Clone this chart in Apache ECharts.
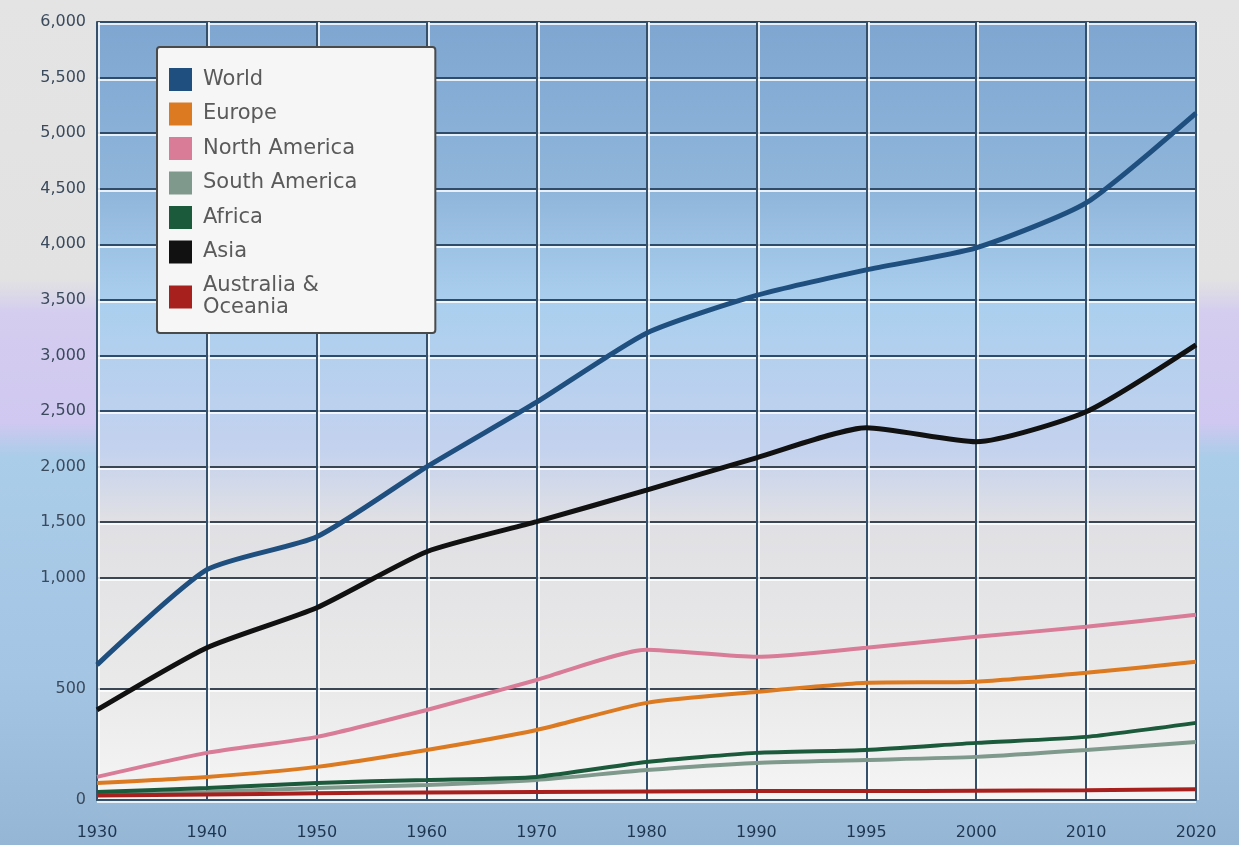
<!DOCTYPE html>
<html>
<head>
<meta charset="utf-8">
<script src="https://cdn.jsdelivr.net/npm/echarts@6/dist/echarts.min.js"></script>
<style>
html,body{margin:0;padding:0;}
body{width:1239px;height:845px;overflow:hidden;
background:linear-gradient(to bottom,#e4e4e4 0%,#e2e2e2 33%,#d4cdef 37%,#d0c8f0 50%,#aacde9 54%,#a4c5e4 80%,#96b6d6 100%);}
#chart{width:1239px;height:845px;}
</style>
</head>
<body>
<div id="chart"></div>
<script>
// ---- data (population, millions) ----
const years = ['1930','1940','1950','1960','1970','1980','1990','1995','2000','2010','2020'];
const world        = [608, 1072, 1369, 1998, 2580, 3200, 3540, 3770, 3968, 4372, 5180];
const europe       = [77, 104, 149, 225, 315, 437, 486, 527, 532, 572, 622];
const northAmerica = [104, 212, 284, 405, 540, 676, 644, 685, 734, 779, 833];
const southAmerica = [22, 36, 54, 68, 90, 135, 167, 180, 194, 225, 261];
const africa       = [36, 54, 77, 90, 104, 171, 212, 225, 257, 284, 347];
const asia         = [405, 685, 865, 1234, 1504, 1788, 2079, 2349, 2223, 2493, 3095];
const oceania      = [20, 25, 30, 34, 36, 38, 40, 40, 42, 44, 48];
const yTickValues  = [0, 500, 1000, 1500, 2000, 2500, 3000, 3500, 4000, 4500, 5000, 5500, 6000];

// axis is stretched x2 below 1,000
function toAxis(v){ return v <= 1000 ? v * 2 : v + 1000; }
function fromAxis(u){ return u <= 2000 ? u / 2 : u - 1000; }
function fmt(n){ return n.toLocaleString('en-US'); }

const tickAxisVals = yTickValues.map(toAxis);
const splitColors = [];
for (let u = 0; u <= 7000; u += 500) {
  splitColors.push(tickAxisVals.indexOf(u) >= 0 ? (u <= 3000 ? '#3a4654' : '#2f4d6a') : 'rgba(0,0,0,0)');
}

const chart = echarts.init(document.getElementById('chart'));
const font = 'DejaVu Sans';

function mk(name, data, color, width){
  return {
    name: name, type: 'line', data: data.map(toAxis), symbol: 'none',
    smooth: 0.2,
    lineStyle: {color: color, width: width},
    itemStyle: {color: color}
  };
}

chart.setOption({
  animation: false,
  backgroundColor: 'transparent',
  grid: {
    left: 97, right: 43, top: 22, bottom: 45, show: true, borderWidth: 0,
    backgroundColor: new echarts.graphic.LinearGradient(0,0,0,1,[
      {offset:0, color:'#7ea6d0'},
      {offset:0.22, color:'#90b6db'},
      {offset:0.36, color:'#aacfee'},
      {offset:0.55, color:'#c4d2ee'},
      {offset:0.64, color:'#e0e0e4'},
      {offset:0.86, color:'#eaeaea'},
      {offset:1, color:'#f5f5f5'}
    ])
  },
  legend: {
    orient: 'vertical', left: 157, top: 47,
    icon: 'rect', itemWidth: 23, itemHeight: 23, itemGap: 11.5,
    padding: [21, 78, 14, 12],
    backgroundColor: '#f6f6f6', borderColor: '#4a4a4a', borderWidth: 2, borderRadius: 3,
    textStyle: {fontFamily: font, fontSize: 21, color: '#5a5a5a', lineHeight: 22, padding: [0,0,0,6]},
    formatter: function(n){ return n === 'Australia & Oceania' ? 'Australia &\nOceania' : n; },
    data: ['World','Europe','North America','South America','Africa','Asia','Australia & Oceania']
  },
  xAxis: {
    type: 'category', data: years, boundaryGap: false,
    axisLine: {show: true, lineStyle: {color: '#34506a', width: 2}},
    axisTick: {show: false},
    axisLabel: {fontFamily: font, fontSize: 16, color: '#1e3550', margin: 25},
    splitLine: {show: true, lineStyle: {color: '#34506a', width: 2,
      shadowColor: 'rgba(255,255,255,0.8)', shadowOffsetX: 2}}
  },
  yAxis: {
    type: 'value', min: 0, max: 7000, interval: 500,
    axisLine: {show: true, lineStyle: {color: '#34506a', width: 2}},
    axisTick: {show: false},
    axisLabel: {fontFamily: font, fontSize: 16, color: '#3a4a5c', margin: 11,
      formatter: function(u){ return tickAxisVals.indexOf(u) >= 0 ? fmt(fromAxis(u)) : ''; }},
    splitLine: {show: true, lineStyle: {color: splitColors, width: 2,
      shadowColor: 'rgba(255,255,255,0.8)', shadowOffsetY: 2}}
  },
  series: [
    mk('World', world, '#1f4f7e', 5),
    mk('Europe', europe, '#dc7a22', 4),
    mk('North America', northAmerica, '#d97c98', 4),
    mk('South America', southAmerica, '#7f9a8c', 4),
    mk('Africa', africa, '#1c5a3c', 4),
    mk('Asia', asia, '#111111', 5),
    mk('Australia & Oceania', oceania, '#a8201e', 4)
  ]
});
</script>
</body>
</html>
